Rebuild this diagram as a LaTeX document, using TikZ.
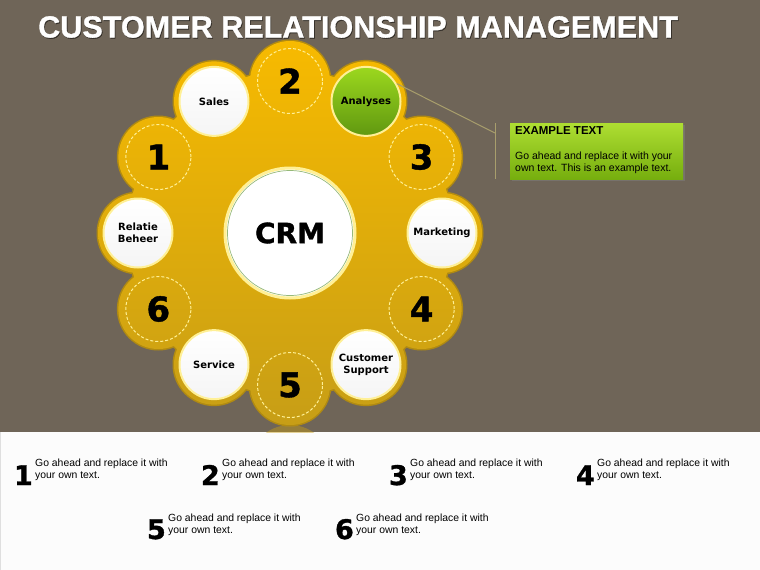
\documentclass[tikz,border=0pt]{standalone}
\usepackage{fontspec}
\setmainfont{Liberation Sans}
\newfontfamily\heavyfont{DejaVu Sans}
\newfontfamily\blackfont{DejaVu Sans Bold}[FakeBold=1.2]
\newfontfamily\titlefont{Liberation Sans Bold}[FakeBold=1]
\usetikzlibrary{shadows}

\definecolor{bgtaupe}{RGB}{111,101,88}
\definecolor{paper}{RGB}{252,252,252}
\definecolor{petaltop}{RGB}{247,186,0}
\definecolor{petalbot}{RGB}{199,158,22}
\definecolor{petaledge}{RGB}{176,138,18}
\definecolor{rimyellow}{RGB}{255,240,150}
\definecolor{hubgreen}{RGB}{150,185,120}
\definecolor{leaflight}{RGB}{156,216,30}
\definecolor{leafdark}{RGB}{96,152,16}
\definecolor{notelight}{RGB}{174,222,50}
\definecolor{notedark}{RGB}{118,174,14}
\definecolor{khaki}{RGB}{168,158,108}

\tikzset{
  title text/.style={anchor=west, inner sep=0pt, text=white,
    font=\titlefont\fontsize{30.6}{32}\selectfont},
  title shadow/.style={title text, text=black, opacity=.45},
  hub/.style={circle, fill=white, draw=rimyellow, line width=3pt,
    minimum size=130pt, inner sep=0pt,
    font=\blackfont\fontsize{28}{28}\selectfont},
  hubline/.style={hubgreen, line width=.7pt},
  label circle/.style={circle, top color=white, bottom color=white!92!gray,
    draw=rimyellow, line width=2pt, minimum size=69pt, inner sep=0pt,
    align=center, font=\heavyfont\bfseries\fontsize{10}{12.5}\selectfont},
  green circle/.style={label circle, top color=leaflight, bottom color=leafdark},
  num circle/.style={circle, draw=rimyellow, dash pattern=on 3pt off 2pt,
    line width=1pt, minimum size=65pt, inner sep=0pt,
    font=\blackfont\fontsize{34}{34}\selectfont},
  leader/.style={draw=khaki, line width=1pt},
  notebox/.style={rectangle, minimum width=173pt, minimum height=56pt,
    top color=notelight, bottom color=notedark,
    drop shadow={shadow xshift=1.5pt, shadow yshift=-2pt, opacity=.5}},
  notehead/.style={inner sep=0pt, font=\fontsize{11.5}{12}\selectfont\bfseries},
  notebody/.style={inner sep=0pt, align=left, font=\fontsize{10.5}{12}\selectfont},
  bignum/.style={inner sep=0pt, anchor=base east,
    font=\blackfont\fontsize{27}{27}\selectfont},
  blurb/.style={inner sep=0pt, anchor=north west, align=left,
    font=\fontsize{10.4}{12}\selectfont}
}

\begin{document}
\begin{tikzpicture}[x=1pt, y=1pt]
  \useasboundingbox (0,0) rectangle (760,-570);
  \fill[bgtaupe] (0,0) rectangle (760,-432);
  \fill[paper] (0,-432) rectangle (760,-570);
  \draw[gray!25] (0.5,-432) -- (0.5,-570);

  % title
  \node[title shadow] (tshadow) at (38.8,-28) {CUSTOMER RELATIONSHIP MANAGEMENT};
  \node[title text] (title) at (38,-27) {CUSTOMER RELATIONSHIP MANAGEMENT};

  % flower
  \coordinate (C) at (290,-233);
  \fill[petaledge]
    (C) circle (163.5)
    \foreach \a in {0,30,...,330} {([shift={(\a:152)}]C) circle (41.5)};
  \shade[top color=petaltop, bottom color=petalbot]
    (C) circle (162)
    \foreach \a in {0,30,...,330} {([shift={(\a:152)}]C) circle (40)};
  \begin{scope}
    \clip (240,-426) rectangle (340,-432);
    \fill[petalbot, opacity=.45] (290,-466) circle (41);
  \end{scope}

  \node[hub] (crm) at (C) {CRM};
  \draw[hubline] (crm.center) circle (62.5);

  \node[label circle] (mkt) at ([shift={(0:152)}]C) {Marketing};
  \node[green circle] (ana) at ([shift={(60:152)}]C) {Analyses};
  \node[label circle] (sales) at ([shift={(120:152)}]C) {Sales};
  \node[label circle] (rel) at ([shift={(180:152)}]C) {Relatie\\Beheer};
  \node[label circle] (serv) at ([shift={(240:152)}]C) {Service};
  \node[label circle] (supp) at ([shift={(300:152)}]C) {Customer\\Support};

  \node[num circle] (p1) at ([shift={(150:152)}]C) {1};
  \node[num circle] (p2) at ([shift={(90:152)}]C) {2};
  \node[num circle] (p3) at ([shift={(30:152)}]C) {3};
  \node[num circle] (p4) at ([shift={(330:152)}]C) {4};
  \node[num circle] (p5) at ([shift={(270:152)}]C) {5};
  \node[num circle] (p6) at ([shift={(210:152)}]C) {6};

  % callout
  \coordinate (knee) at (495,-133);
  \coordinate (vtop) at (495,-123);
  \coordinate (vbot) at (495,-179);
  \draw[leader] (ana.30) -- (knee);
  \draw[leader] (vtop) -- (vbot);
  \node[notebox, anchor=north west] (note) at (510,-123) {};
  \node[notehead, anchor=west] (nhead) at (515,-131) {EXAMPLE TEXT};
  \node[notebody, anchor=north west] (nbody) at (515,-152)
    {Go ahead and replace it with your\\own text. This is an example text.};

  % legend
  \node[bignum] (b1) at (33,-485) {1};
  \node[blurb] (t1) at (35,-459) {Go ahead and replace it with\\your own text.};
  \node[bignum] (b2) at (220,-485) {2};
  \node[blurb] (t2) at (222,-459) {Go ahead and replace it with\\your own text.};
  \node[bignum] (b3) at (408,-485) {3};
  \node[blurb] (t3) at (410,-459) {Go ahead and replace it with\\your own text.};
  \node[bignum] (b4) at (595,-485) {4};
  \node[blurb] (t4) at (597,-459) {Go ahead and replace it with\\your own text.};
  \node[bignum] (b5) at (166,-539) {5};
  \node[blurb] (t5) at (168,-514) {Go ahead and replace it with\\your own text.};
  \node[bignum] (b6) at (354,-539) {6};
  \node[blurb] (t6) at (356,-514) {Go ahead and replace it with\\your own text.};
\end{tikzpicture}
\end{document}
